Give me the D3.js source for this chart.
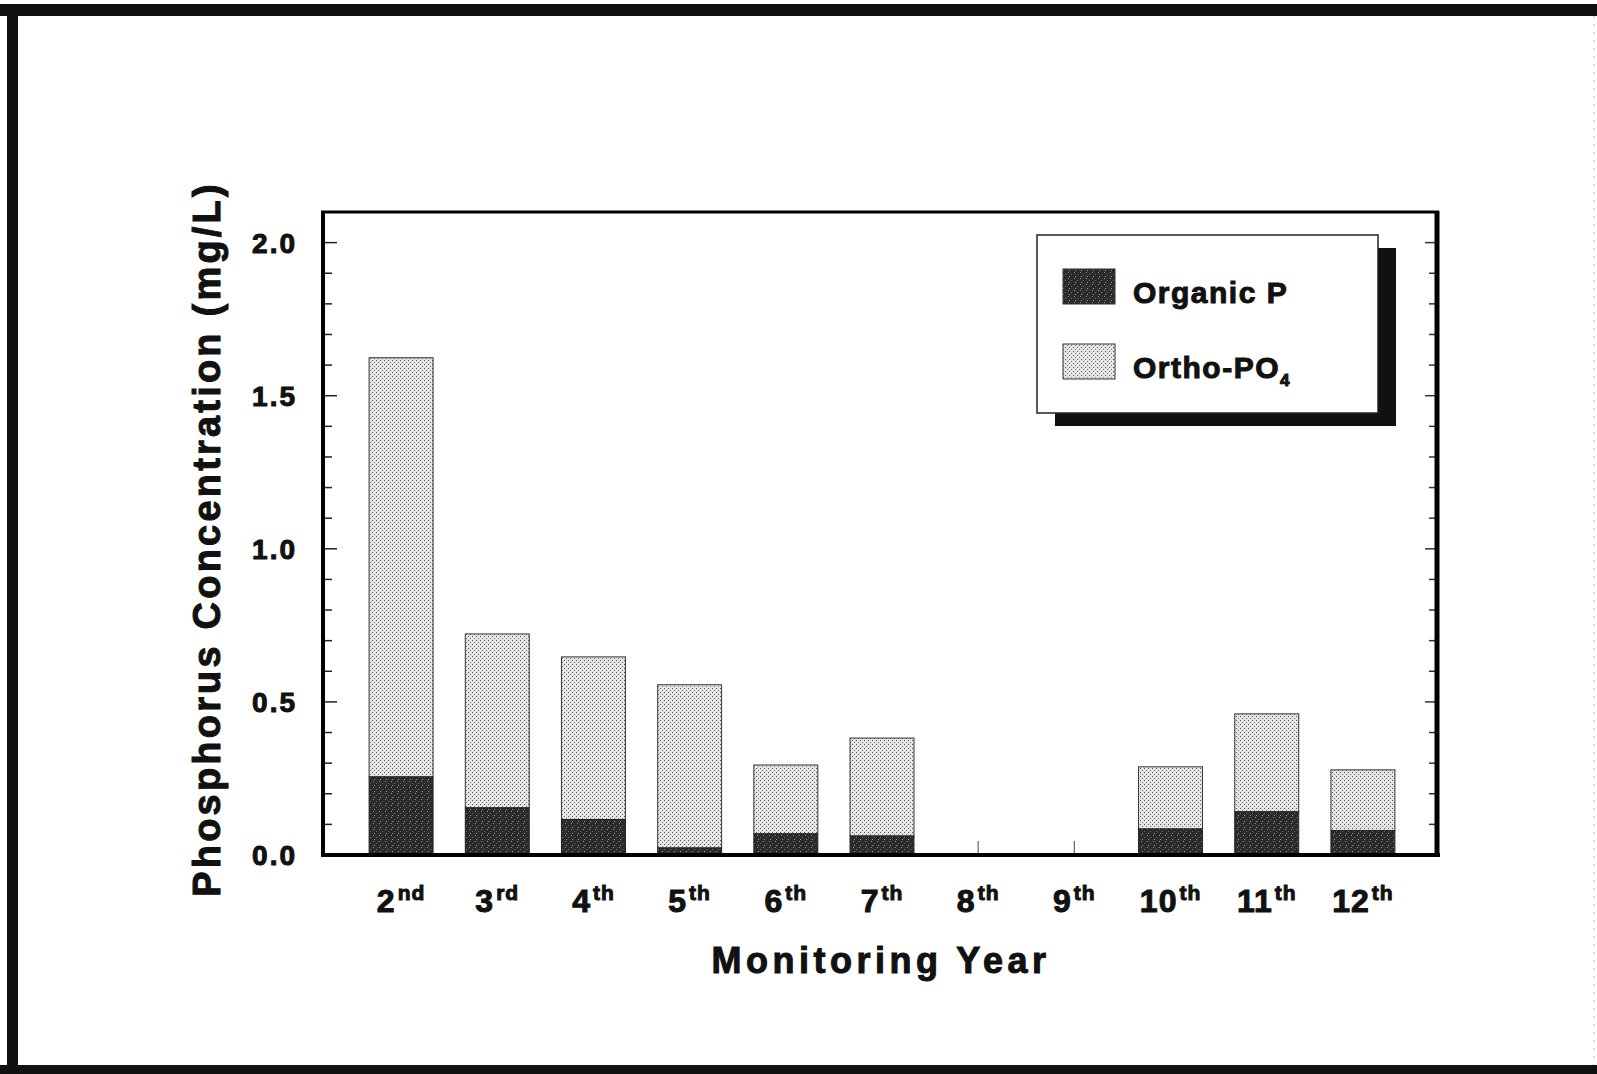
<!DOCTYPE html>
<html>
<head>
<meta charset="utf-8">
<script src="https://cdn.jsdelivr.net/npm/d3@7"></script>
<style>
  html, body { margin: 0; padding: 0; background: #fff; }
  #svg-container { width: 1597px; height: 1074px; }
  text { font-family: "Liberation Sans", Arial, Helvetica, sans-serif; font-weight: bold; fill: #111; stroke: #111; stroke-width: 1px; }
</style>
</head>
<body>
<div id="svg-container"></div>
<script>
////////////////////////////////////////////////////////////////////
////////////////////////////  Data  ////////////////////////////////
const yearNums = ["2", "3", "4", "5", "6", "7", "8", "9", "10", "11", "12"];
const yearSuffix = ["nd", "rd", "th", "th", "th", "th", "th", "th", "th", "th", "th"];
const organicP = [0.255, 0.154, 0.116, 0.023, 0.069, 0.062, 0, 0, 0.085, 0.141, 0.08];
const orthoPO4 = [1.369, 0.568, 0.531, 0.533, 0.225, 0.32, 0, 0, 0.203, 0.32, 0.198];
const yTickLabels = [0, 0.5, 1.0, 1.5, 2.0];

////////////////////////////////////////////////////////////////////
////////////////////////////  Init  ////////////////////////////////
const width = 1597;
const height = 1074;
const plot = { left: 323, right: 1437, top: 212, bottom: 855 };

const svg = d3
  .select("#svg-container")
  .append("svg")
  .attr("width", width)
  .attr("height", height);

const defs = svg.append("defs");

// ortho: light stipple
const pOrtho = defs
  .append("pattern")
  .attr("id", "ortho")
  .attr("patternUnits", "userSpaceOnUse")
  .attr("width", 4)
  .attr("height", 4);
pOrtho.append("rect").attr("width", 4).attr("height", 4).attr("fill", "#e4e4e4");
pOrtho.append("rect").attr("x", 0).attr("y", 0).attr("width", 1).attr("height", 1).attr("fill", "#555");
pOrtho.append("rect").attr("x", 2).attr("y", 2).attr("width", 1).attr("height", 1).attr("fill", "#777");

// organic: dark speckle
const pOrg = defs
  .append("pattern")
  .attr("id", "organic")
  .attr("patternUnits", "userSpaceOnUse")
  .attr("width", 6)
  .attr("height", 6);
pOrg.append("rect").attr("width", 6).attr("height", 6).attr("fill", "#2b2b2b");
pOrg.append("rect").attr("x", 1).attr("y", 1).attr("width", 1).attr("height", 1).attr("fill", "#8a8a8a");
pOrg.append("rect").attr("x", 4).attr("y", 3).attr("width", 1).attr("height", 1).attr("fill", "#6a6a6a");
pOrg.append("rect").attr("x", 2).attr("y", 5).attr("width", 1).attr("height", 1).attr("fill", "#9a9a9a");

// outer frame (scanned page border)
svg.append("rect").attr("x", 0).attr("y", 4).attr("width", width).attr("height", 12).attr("fill", "#111");
svg.append("rect").attr("x", 7).attr("y", 4).attr("width", 11).attr("height", height - 4).attr("fill", "#111");
svg.append("rect").attr("x", 0).attr("y", 1065).attr("width", width).attr("height", 9).attr("fill", "#111");
svg.append("line").attr("x1", 1594).attr("x2", 1594).attr("y1", 16).attr("y2", 1065)
  .attr("stroke", "#bbb").attr("stroke-width", 1).attr("stroke-dasharray", "2,6");

// scale
const xScale = d3
  .scaleBand()
  .domain(yearNums)
  .range([353, 1411])
  .paddingInner(0.335)
  .paddingOuter(0.1675);

const yScale = d3.scaleLinear().domain([0, 2.1]).range([plot.bottom, plot.top]);

const minorTicks = d3.range(0, 21).map((i) => i / 10);

////////////////////////////////////////////////////////////////////
////////////////////////////  Bars  ////////////////////////////////
const data = yearNums.map((y, i) => ({ year: y, organic: organicP[i], ortho: orthoPO4[i] }));

// x ticks at each category (hidden behind bars)
svg
  .selectAll(".xtick")
  .data(yearNums)
  .enter()
  .append("line")
  .attr("x1", (d) => xScale(d) + xScale.bandwidth() / 2)
  .attr("x2", (d) => xScale(d) + xScale.bandwidth() / 2)
  .attr("y1", plot.bottom)
  .attr("y2", plot.bottom - 14)
  .attr("stroke", "#666")
  .attr("stroke-width", 1.2);

const bars = svg.selectAll(".bar").data(data.filter((d) => d.organic + d.ortho > 0)).enter().append("g");

bars
  .append("rect")
  .attr("x", (d) => xScale(d.year))
  .attr("width", xScale.bandwidth())
  .attr("y", (d) => yScale(d.organic + d.ortho))
  .attr("height", (d) => yScale(d.organic) - yScale(d.organic + d.ortho))
  .attr("fill", "url(#ortho)")
  .attr("stroke", "#333")
  .attr("stroke-width", 1);

bars
  .append("rect")
  .attr("x", (d) => xScale(d.year))
  .attr("width", xScale.bandwidth())
  .attr("y", (d) => yScale(d.organic))
  .attr("height", (d) => yScale(0) - yScale(d.organic))
  .attr("fill", "url(#organic)")
  .attr("stroke", "#222")
  .attr("stroke-width", 1);

////////////////////////////////////////////////////////////////////
////////////////////////////  Axes  ////////////////////////////////
// left ticks (inside)
svg
  .selectAll(".ltick")
  .data(minorTicks)
  .enter()
  .append("line")
  .attr("x1", plot.left)
  .attr("x2", (d) => plot.left + (Math.round(d * 10) % 5 === 0 ? 14 : 9))
  .attr("y1", (d) => yScale(d))
  .attr("y2", (d) => yScale(d))
  .attr("stroke", "#222")
  .attr("stroke-width", 1.5);

// right ticks (inside)
svg
  .selectAll(".rtick")
  .data(minorTicks)
  .enter()
  .append("line")
  .attr("x1", plot.right)
  .attr("x2", (d) => plot.right - (Math.round(d * 10) % 5 === 0 ? 12 : 8))
  .attr("y1", (d) => yScale(d))
  .attr("y2", (d) => yScale(d))
  .attr("stroke", "#333")
  .attr("stroke-width", 1.5);

// plot frame: thick left/bottom/right, thinner top
svg.append("line").attr("x1", plot.left).attr("x2", plot.left).attr("y1", plot.top - 1).attr("y2", plot.bottom + 2)
  .attr("stroke", "#000").attr("stroke-width", 4);
svg.append("line").attr("x1", plot.left - 2).attr("x2", plot.right + 3).attr("y1", plot.bottom).attr("y2", plot.bottom)
  .attr("stroke", "#000").attr("stroke-width", 4);
svg.append("line").attr("x1", plot.right).attr("x2", plot.right).attr("y1", plot.top - 1).attr("y2", plot.bottom + 2)
  .attr("stroke", "#000").attr("stroke-width", 5);
svg.append("line").attr("x1", plot.left - 2).attr("x2", plot.right + 2).attr("y1", plot.top).attr("y2", plot.top)
  .attr("stroke", "#000").attr("stroke-width", 3);

// y tick labels
svg
  .selectAll(".ylabel")
  .data(yTickLabels)
  .enter()
  .append("text")
  .attr("x", 297)
  .attr("y", (d) => yScale(d) + 10)
  .attr("text-anchor", "end")
  .style("font-size", "28px")
  .style("letter-spacing", "2px")
  .text((d) => d3.format(".1f")(d));

// x tick labels with superscripts
const xl = svg
  .selectAll(".xlabel")
  .data(data)
  .enter()
  .append("text")
  .attr("x", (d) => xScale(d.year) + xScale.bandwidth() / 2)
  .attr("y", 912)
  .attr("text-anchor", "middle")
  .style("font-size", "32px")
  .style("letter-spacing", "1px");
xl.append("tspan").text((d) => d.year);
xl.append("tspan")
  .attr("dy", -12)
  .attr("dx", 2)
  .style("font-size", "21px")
  .text((d, i) => yearSuffix[i]);

// axis titles
svg
  .append("text")
  .attr("x", 881)
  .attr("y", 973)
  .attr("text-anchor", "middle")
  .style("font-size", "36px")
  .style("letter-spacing", "4.5px")
  .text("Monitoring Year");

svg
  .append("text")
  .attr("transform", `translate(220, 539) rotate(-90)`)
  .attr("text-anchor", "middle")
  .style("font-size", "38px")
  .style("letter-spacing", "3.2px")
  .text("Phosphorus Concentration (mg/L)");

////////////////////////////////////////////////////////////////////
////////////////////////////  Legend  //////////////////////////////
const legend = svg.append("g").attr("transform", "translate(1037, 235)");
legend.append("rect").attr("x", 18).attr("y", 13).attr("width", 341).attr("height", 178).attr("fill", "#111");
legend.append("rect").attr("x", 0).attr("y", 0).attr("width", 341).attr("height", 178)
  .attr("fill", "#fff").attr("stroke", "#222").attr("stroke-width", 1.5);

const legendItems = [
  { fill: "url(#organic)", label: "Organic P", sub: "" },
  { fill: "url(#ortho)", label: "Ortho-PO", sub: "4" },
];

legendItems.forEach((d, i) => {
  legend
    .append("rect")
    .attr("x", 26)
    .attr("y", 34 + i * 75)
    .attr("width", 52)
    .attr("height", 35)
    .attr("fill", d.fill)
    .attr("stroke", "#333")
    .attr("stroke-width", 1);
  const t = legend
    .append("text")
    .attr("x", 96)
    .attr("y", 68 + i * 75)
    .style("font-size", "30px")
    .style("letter-spacing", "1.5px");
  t.append("tspan").text(d.label);
  if (d.sub) t.append("tspan").attr("dy", 8).style("font-size", "17px").text(d.sub);
});
</script>
</body>
</html>
